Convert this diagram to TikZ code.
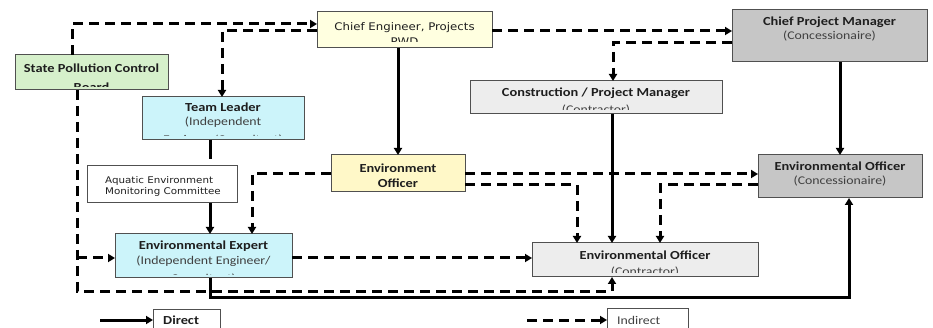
\documentclass[tikz,border=0pt]{standalone}
\usepackage{fontspec}
\setmainfont{Carlito}
\newfontfamily\calw[FakeStretch=1.17]{Carlito}
\newfontfamily\dvw[FakeStretch=1.12]{DejaVu Sans}
\usetikzlibrary{arrows.meta}
\definecolor{yelA}{HTML}{FFFFE0}
\definecolor{yelB}{HTML}{FFF8C8}
\definecolor{greyD}{HTML}{C6C6C6}
\definecolor{greyL}{HTML}{EDEDED}
\definecolor{greenL}{HTML}{D6F0CB}
\definecolor{cyanL}{HTML}{CCF4FA}
\definecolor{bord}{HTML}{505050}
\definecolor{txt}{HTML}{1E1E1E}
\definecolor{txtg}{HTML}{404040}
\begin{document}
\begin{tikzpicture}[x=1pt,y=-1pt,
  box/.style={draw=bord, line width=1pt, inner sep=0pt, outer sep=0pt, anchor=north west},
  tb/.style={inner sep=0pt, anchor=base, text=txt, font=\calw\bfseries\fontsize{12.3}{14}\selectfont},
  tr/.style={inner sep=0pt, anchor=base, text=txtg, font=\calw\fontsize{11.8}{14}\selectfont},
  td/.style={inner sep=0pt, anchor=base, text=txt, font=\dvw\fontsize{10.5}{12}\selectfont},
  tq/.style={inner sep=0pt, anchor=base west, text=txt, font=\dvw\fontsize{9.2}{10}\selectfont},
  dir/.style={line width=3pt, -{Triangle[length=7pt,width=8pt]}},
  ind/.style={line width=3pt, dash pattern=on 10pt off 6pt, -{Triangle[length=7pt,width=8pt]}},
  dirline/.style={line width=3pt}
]
\clip (0,0) rectangle (933,328);
\fill[white] (0,0) rectangle (933,328);

% ---- boxes ----
\node[box, fill=yelA, minimum width=175pt, minimum height=36pt] (ce) at (317,12) {};
\node[box, fill=greyD, minimum width=195pt, minimum height=52pt] (cpm) at (732,10) {};
\node[box, fill=greenL, minimum width=153pt, minimum height=35pt] (spcb) at (15,55) {};
\node[box, fill=cyanL, minimum width=162pt, minimum height=43pt] (tl) at (142,97) {};
\node[box, fill=greyL, minimum width=252pt, minimum height=33pt] (cm) at (470,81) {};
\node[box, fill=white, minimum width=150pt, minimum height=37pt] (aq) at (87,166) {};
\node[box, fill=yelB, minimum width=134pt, minimum height=37pt] (eo) at (331,155) {};
\node[box, fill=greyD, minimum width=164pt, minimum height=43pt] (eoc) at (758,155) {};
\node[box, fill=cyanL, minimum width=177pt, minimum height=44pt] (ee) at (115,234) {};
\node[box, fill=greyL, minimum width=226pt, minimum height=34pt] (eok) at (532,243) {};
\node[box, fill=white, minimum width=67pt, minimum height=30pt] (direct) at (153,309) {};
\node[box, fill=white, minimum width=81pt, minimum height=30pt] (indirect) at (607,308) {};

% ---- texts (clipped like the reference) ----
\begin{scope}\clip (317,12) rectangle (492,41.5);
\node[td] (ce1) at (404.5,31) {Chief Engineer, Projects};
\node[td] (ce2) at (404.5,45.5) {PWD};
\end{scope}
\node[tb] (cpm1) at (829.5,26) {Chief Project Manager};
\node[tr] (cpm2) at (829.5,40) {(Concessionaire)};
\begin{scope}\clip (15,55) rectangle (168,87);
\node[tb] (spcb1) at (91.5,73) {State Pollution Control};
\node[tb] (spcb2) at (91.5,91.5) {Board};
\end{scope}
\begin{scope}\clip (142,97) rectangle (304,136);
\node[tb] (tl1) at (223,112) {Team Leader};
\node[tr] (tl2) at (223,126) {(Independent};
\node[tr] (tl3) at (223,143.5) {Engineer/Consultant)};
\end{scope}
\begin{scope}\clip (470,81) rectangle (722,110);
\node[tb] (cm1) at (596,97) {Construction / Project Manager};
\node[tr] (cm2) at (596,113.5) {(Contractor)};
\end{scope}
\node[tq] (aq1) at (105,184) {Aquatic Environment};
\node[tq] (aq2) at (105,195) {Monitoring Committee};
\node[tb] (eo1) at (398,173) {Environment};
\node[tb] (eo2) at (398,188) {Officer};
\node[tb] (eoc1) at (840,171) {Environmental Officer};
\node[tr] (eoc2) at (840,185) {(Concessionaire)};
\begin{scope}\clip (115,234) rectangle (292,274.5);
\node[tb] (ee1) at (203.5,250) {Environmental Expert};
\node[tr] (ee2) at (203.5,265) {(Independent Engineer/};
\node[tr] (ee3) at (203.5,283) {Consultant)};
\end{scope}
\begin{scope}\clip (532,243) rectangle (758,273);
\node[tb] (eok1) at (645,260) {Environmental Officer};
\node[tr] (eok2) at (645,276) {(Contractor)};
\end{scope}
\node[tb, anchor=base west] (dir1) at (163,324) {Direct};
\node[tr, anchor=base west] (ind1) at (617,324) {Indirect};

% ---- connectors ----
\coordinate (p1) at (72,24);
\draw[ind] (spcb.north -| p1) |- (ce.west |- p1);
\coordinate (p2) at (222,31);
\draw[ind] (ce.west |- p2) -| (tl.north -| p2);
\coordinate (p3) at (600,31);
\draw[ind] (ce.east |- p3) -- (cpm.west |- p3);
\coordinate (p4) at (613,43);
\draw[ind] (cpm.west |- p4) -| (cm.north -| p4);
\draw[dir] (ce.south -| eo.north) -- (eo.north);
\draw[dir] (cpm.south -| eoc.north) -- (eoc.north);
\coordinate (p7) at (612,0);
\draw[dir] (cm.south -| p7) -- (eok.north -| p7);
\coordinate (p8) at (210,0);
\coordinate (p8b) at (210,159);
\draw[dirline] (tl.south -| p8) -- (p8b);
\draw[dir] (aq.south -| p8) -- (ee.north -| p8);
\coordinate (p10) at (252,174);
\draw[ind] (eo.west |- p10) -| (ee.north -| p10);
\coordinate (p11) at (600,174);
\draw[ind] (eo.east |- p11) -- (eoc.west |- p11);
\coordinate (p12) at (577,185);
\draw[ind] (eo.east |- p12) -| (eok.north -| p12);
\coordinate (p13) at (660,185);
\draw[ind] (eoc.west |- p13) -| (eok.north -| p13);
\coordinate (p14) at (400,258);
\draw[ind] (ee.east |- p14) -- (eok.west |- p14);
\coordinate (p15) at (77,291);
\coordinate (p15b) at (612,291);
\draw[ind] (spcb.south -| p15) -- (p15) -| (eok.south -| p15b);
\coordinate (p16) at (77,258);
\draw[ind] (p16) -- (ee.west |- p16);
\coordinate (p17) at (210,297);
\coordinate (p17b) at (849,297);
\draw[dir] (ee.south -| p17) -- (p17) -| (eoc.south -| p17b);
\coordinate (l1) at (100,320);
\draw[dir] (l1) -- (direct.west |- l1);
\coordinate (l2) at (527,320);
\draw[ind] (l2) -- (indirect.west |- l2);
\end{tikzpicture}
\end{document}
